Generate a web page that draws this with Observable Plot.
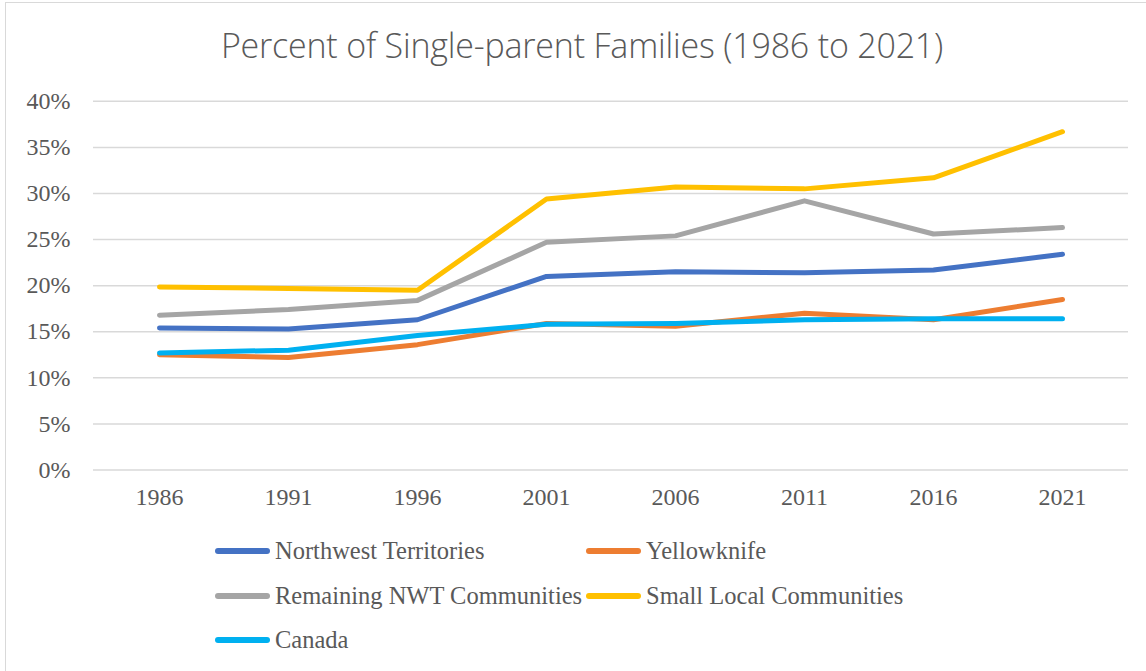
<!DOCTYPE html>
<html>
<head>
<meta charset="utf-8">
<script src="https://cdn.jsdelivr.net/npm/d3@7"></script>
<script src="https://cdn.jsdelivr.net/npm/@observablehq/plot@0.6"></script>
<style>
  html, body { margin: 0; padding: 0; background: #fff; overflow: hidden; }
  #wrap { position: relative; width: 1146px; height: 671px; }
  #frame { position: absolute; left: 5px; top: 2px; width: 1160px; height: 700px; border: 1px solid #d9d9d9; box-sizing: border-box; }
  #title { position: absolute; left: 0; width: 1164px; top: 22px; text-align: center; font-family: "Open Sans", sans-serif; font-weight: 300; font-size: 34px; letter-spacing: -0.2px; color: #595959; white-space: nowrap; }
  #chart { position: absolute; left: 0; top: 80px; }
  .leg { position: absolute; font-family: "Liberation Serif", serif; font-size: 24.5px; color: #595959; white-space: nowrap; display: flex; align-items: center; }
  .sw { display: inline-block; width: 55px; height: 6px; border-radius: 3px; margin-right: 5px; }
</style>
</head>
<body>
<div id="wrap">
  <div id="frame"></div>
  <div id="title">Percent of Single-parent Families (1986 to 2021)</div>
  <div id="chart"></div>
  <div id="legend"></div>
</div>
<script>
const years = ["1986", "1991", "1996", "2001", "2006", "2011", "2016", "2021"];
const seriesNames = ["Northwest Territories", "Yellowknife", "Remaining NWT Communities", "Small Local Communities", "Canada"];
const seriesColors = ["#4472C4", "#ED7D31", "#A5A5A5", "#FFC000", "#00B0F0"];
const northwestTerritories = [15.4, 15.3, 16.3, 21.0, 21.5, 21.4, 21.7, 23.4];
const yellowknife = [12.5, 12.2, 13.6, 15.9, 15.6, 17.0, 16.3, 18.5];
const remainingNWT = [16.8, 17.4, 18.4, 24.7, 25.4, 29.2, 25.6, 26.3];
const smallLocal = [19.85, 19.7, 19.5, 29.4, 30.7, 30.5, 31.7, 36.7];
const canada = [12.7, 13.0, 14.6, 15.8, 15.9, 16.3, 16.4, 16.4];
const yTicks = [0, 5, 10, 15, 20, 25, 30, 35, 40];

const seriesValues = [northwestTerritories, yellowknife, remainingNWT, smallLocal, canada];
const rows = [];
seriesNames.forEach((name, i) => {
  years.forEach((yr, j) => rows.push({series: name, year: yr, value: seriesValues[i][j]}));
});

const chart = Plot.plot({
  width: 1146,
  height: 440,
  marginTop: 20.8,
  marginBottom: 50.5,
  marginLeft: 93,
  marginRight: 18,
  style: {fontFamily: "'Liberation Serif', serif", fontSize: "24px", color: "#595959", background: "transparent", overflow: "visible"},
  x: {type: "point", domain: years, padding: 0.5, label: null},
  y: {domain: [0, 40], label: null},
  color: {domain: seriesNames, range: seriesColors},
  marks: [
    Plot.gridY(yTicks, {stroke: "#d9d9d9", strokeOpacity: 1, strokeWidth: 1.5}),
    Plot.axisY(yTicks, {tickSize: 0, tickPadding: 23, tickFormat: d => `${d}%`, label: null, fontSize: 24}),
    Plot.axisX({tickSize: 0, tickPadding: 18, label: null, fontSize: 24}),
    Plot.line(rows, {x: "year", y: "value", z: "series", stroke: "series", strokeWidth: 5, strokeLinecap: "round", strokeLinejoin: "round"})
  ]
});
document.getElementById("chart").appendChild(chart);

// Legend built from the series arrays
const legendPos = [[215, 551], [586, 551], [215, 596], [586, 596], [215, 640]];
const legend = document.getElementById("legend");
seriesNames.forEach((name, i) => {
  const d = document.createElement("div");
  d.className = "leg";
  d.style.left = legendPos[i][0] + "px";
  d.style.top = (legendPos[i][1] - 15) + "px";
  d.style.height = "30px";
  const sw = document.createElement("span");
  sw.className = "sw";
  sw.style.background = seriesColors[i];
  d.appendChild(sw);
  d.appendChild(document.createTextNode(name));
  legend.appendChild(d);
});
</script>
</body>
</html>
